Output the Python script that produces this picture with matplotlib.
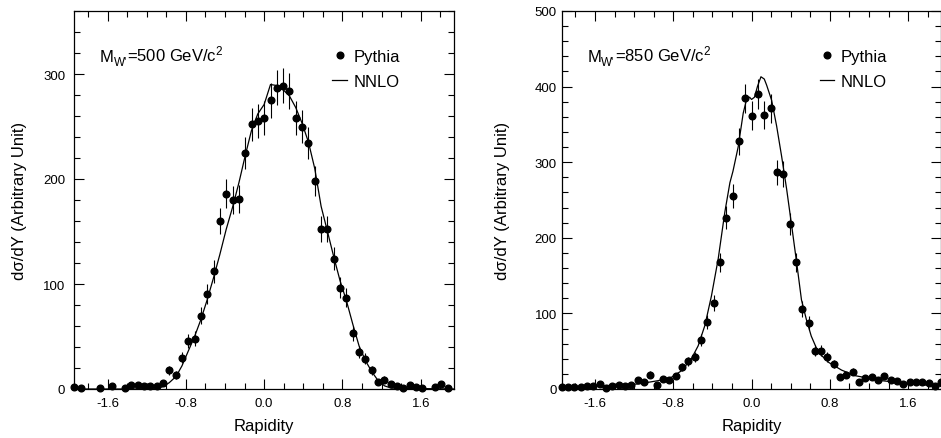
import numpy as np
import matplotlib
matplotlib.use("Agg")
import matplotlib.pyplot as plt
from matplotlib.ticker import MultipleLocator, FormatStrFormatter
from matplotlib.lines import Line2D

plt.rcParams['font.family'] = ['Liberation Sans', 'DejaVu Sans']
plt.rcParams['mathtext.fontset'] = 'custom'
plt.rcParams['mathtext.rm'] = 'Liberation Sans'
plt.rcParams['mathtext.it'] = 'Liberation Sans:italic'
plt.rcParams['axes.unicode_minus'] = False

# bin centres of the rapidity histograms (shared by both panels)
bins = [-1.940, -1.875, -1.811, -1.746, -1.681, -1.617, -1.552, -1.487, -1.423, -1.358,
        -1.293, -1.229, -1.164, -1.099, -1.035, -0.970, -0.905, -0.841, -0.776, -0.711,
        -0.647, -0.582, -0.517, -0.453, -0.388, -0.323, -0.259, -0.194, -0.129, -0.065,
        0.000, 0.065, 0.129, 0.194, 0.259, 0.323, 0.388, 0.453, 0.517, 0.582,
        0.647, 0.711, 0.776, 0.841, 0.905, 0.970, 1.035, 1.099, 1.164, 1.229,
        1.293, 1.358, 1.423, 1.487, 1.552, 1.617, 1.681, 1.746, 1.811, 1.875, 1.940]

nan = np.nan
# M_W' = 500 GeV, Pythia
pythia_500 = [2.2, 1, nan, nan, 1, nan, 3, nan, 1, 4,
              4, 3, 3, 3, 5.4, 18, 13.6, 30, 46, 48,
              70, 90.5, 112, 160, 186, 180, 181, 225, 252, 255,
              258, 275, 287, 289, 284, 258, 250, 234, 198, 152,
              152, 124, 96.5, 87, 53, 35, 29, 18, 6.6, 9,
              4.7, 3, 1, 4, 2.2, 1, nan, 1.6, 4.7, 1, nan]
pythia_500_err = [1.5, 1, nan, nan, 1, nan, 1.7, nan, 1, 2,
                  2, 1.7, 1.7, 1.7, 2.3, 4.2, 3.7, 5.5, 6.8, 6.9,
                  8.4, 9.5, 10.6, 12.6, 13.6, 13.4, 13.5, 15, 15.9, 16,
                  16, 16.6, 16.9, 17, 16.9, 16, 15.8, 15.3, 14.1, 12.3,
                  12.3, 11.1, 9.8, 9.3, 7.3, 5.9, 5.4, 4.2, 2.6, 3,
                  2.2, 1.7, 1, 2, 1.5, 1, nan, 1.3, 2.2, 1, nan]

# M_W' = 850 GeV, Pythia
pythia_850 = [3.1, 3.1, 2.2, 3.1, 4.4, 4.4, 6.6, 0.9, 4.4, 5.7,
              3.5, 5.7, 11.9, 8.8, 19, 5.7, 13.2, 12.3, 17.6, 28.7,
              36.6, 41.9, 64.8, 88.2, 113.8, 167.5, 226.6, 255.7, 327.6, 384.5,
              361.6, 389.8, 362.4, 371.3, 286.6, 284.4, 218.3, 167.5, 105.8, 87.3,
              50.7, 50.7, 41.9, 33.1, 15.4, 18.5, 22.9, 9.7, 14.6, 16.3,
              11.9, 17.6, 11.9, 11, 6.6, 8.8, 8.8, 8.8, 7.5, 4.4, 9.7]
pythia_850_err = [1.8, 1.8, 1.5, 1.8, 2.1, 2.1, 2.6, 1, 2.1, 2.4,
                  1.9, 2.4, 3.4, 3, 4.4, 2.4, 3.6, 3.5, 4.2, 5.4,
                  6, 6.5, 8, 9.4, 10.7, 12.9, 15.1, 16, 18.1, 19.6,
                  19, 19.7, 19, 19.3, 16.9, 16.9, 14.8, 12.9, 10.3, 9.3,
                  7.1, 7.1, 6.5, 5.8, 3.9, 4.3, 4.8, 3.1, 3.8, 4,
                  3.4, 4.2, 3.4, 3.3, 2.6, 3, 3, 3, 2.7, 2.1, 3.1]

# NNLO curves
nnlo_500_x = [-1.94, -1.10, -1.03, -0.97, -0.90, -0.84, -0.776, -0.711, -0.647, -0.582,
              -0.517, -0.453, -0.388, -0.323, -0.259, -0.194, -0.13, -0.065, 0.0, 0.065,
              0.13, 0.194, 0.259, 0.323, 0.388, 0.453, 0.517, 0.582, 0.647, 0.711,
              0.776, 0.841, 0.905, 0.97, 1.035, 1.10, 1.164, 1.23, 1.30, 1.94]
nnlo_500_y = [0, 0, 2.5, 6, 12, 22, 36, 50, 66, 85,
              106, 128, 152, 173, 196, 222, 246, 262, 271, 290,
              289, 285, 279, 268, 253, 235, 210, 174, 150, 126,
              103, 84, 62, 41, 27, 16.5, 8, 3, 0.8, 0]

nnlo_850_x = [-1.94, -1.50, -1.16, -0.956, -0.82, -0.717, -0.615, -0.546, -0.477, -0.41,
              -0.341, -0.273, -0.221, -0.19, -0.137, -0.085, -0.051, -0.02, 0.0, 0.03,
              0.06, 0.096, 0.13, 0.154, 0.205, 0.256, 0.307, 0.359, 0.41, 0.461,
              0.51, 0.56, 0.61, 0.66, 0.71, 0.79, 0.92, 1.06, 1.33, 1.64, 1.94]
nnlo_850_y = [2.2, 4.4, 6.6, 11, 15.4, 24, 40, 57, 84, 123,
              172, 234, 273, 288, 320, 365, 383, 386, 383, 386,
              400, 413, 410, 402, 382, 348, 308, 264, 216, 167,
              118, 92, 70, 55, 45, 35, 25, 17.6, 11, 6.6, 3.5]

W, H = 941, 439
fig = plt.figure(figsize=(W / 100, H / 100), dpi=100)

panels = [
    dict(rect=[74.3 / W, 49 / H, 379.7 / W, 378 / H], y=pythia_500, err=pythia_500_err,
         cx=nnlo_500_x, cy=nnlo_500_y, ymax=360, mass='500', ylab_x=-0.125, ypad=6.5),
    dict(rect=[561.7 / W, 49 / H, 379.7 / W, 378 / H], y=pythia_850, err=pythia_850_err,
         cx=nnlo_850_x, cy=nnlo_850_y, ymax=500, mass='850', ylab_x=-0.136, ypad=3.5),
]

for p in panels:
    ax = fig.add_axes(p['rect'])
    ax.errorbar(bins, p['y'], yerr=p['err'], fmt='o', color='black', ms=4.8,
                elinewidth=0.8, capsize=0, clip_on=False, zorder=3)
    ax.plot(p['cx'], p['cy'], color='black', lw=0.9, zorder=2)

    ax.set_xlim(-1.94, 1.94)
    ax.set_ylim(0, p['ymax'])
    ax.set_xticks([-1.6, -0.8, 0.0, 0.8, 1.6])
    ax.xaxis.set_minor_locator(MultipleLocator(0.2))
    ax.xaxis.set_major_formatter(FormatStrFormatter('%.1f'))
    ax.yaxis.set_major_locator(MultipleLocator(100))
    ax.yaxis.set_minor_locator(MultipleLocator(20))
    ax.tick_params(which='both', direction='in', top=True, right=True,
                   width=0.8, labelsize=9.5, colors='black')
    ax.tick_params(which='major', length=7)
    ax.tick_params(which='minor', length=4)
    ax.tick_params(axis='x', which='major', pad=6)
    ax.tick_params(axis='y', which='major', pad=p['ypad'])
    for s in ax.spines.values():
        s.set_linewidth(0.9)

    ax.set_xlabel('Rapidity', fontsize=12, labelpad=6)
    ax.set_ylabel('d\u03c3/dY (Arbitrary Unit)', fontsize=12)
    ax.yaxis.set_label_coords(p['ylab_x'], 0.5)

    # M_W' label: main letter, small subscript, then the rest
    ty = 0.868
    t1 = ax.text(0.068, ty, "M", transform=ax.transAxes, fontsize=12, va='baseline')
    t2 = ax.annotate("W'", xy=(1, ty), xycoords=(t1, 'axes fraction'),
                     xytext=(0, -3.2), textcoords='offset points',
                     fontsize=8.5, va='baseline', ha='left')
    ax.annotate("=" + p['mass'] + " GeV/c$^{2}$", xy=(1, ty),
                xycoords=(t2, 'axes fraction'), fontsize=12, va='baseline', ha='left')

    handles = [Line2D([], [], marker='o', ls='none', color='black', ms=4.8),
               Line2D([], [], color='black', lw=0.9)]
    ax.legend(handles, ['Pythia', 'NNLO'], loc='upper left', bbox_to_anchor=(0.68, 0.899),
              frameon=False, fontsize=12, handlelength=0.85, handletextpad=0.4,
              borderaxespad=0, borderpad=0, labelspacing=0.6)

fig.savefig('out.png', dpi=100)
